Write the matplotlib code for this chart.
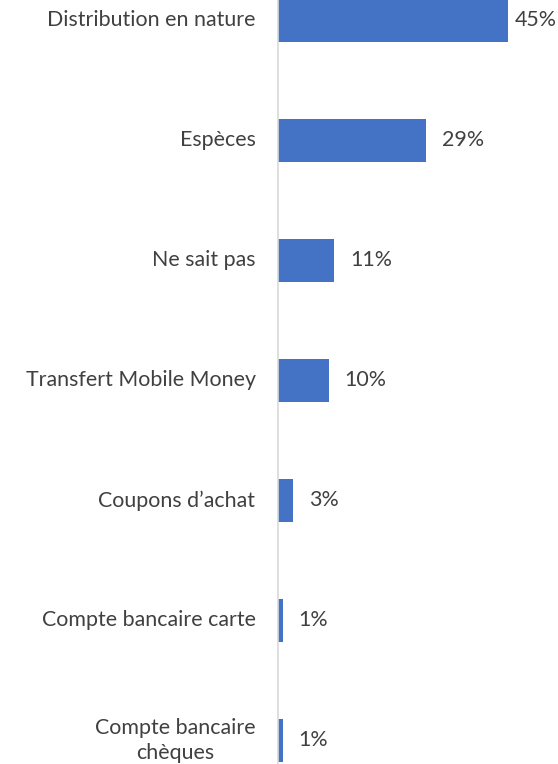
import matplotlib
matplotlib.use("Agg")
import matplotlib.pyplot as plt

categories = [
    "Distribution en nature",
    "Espèces",
    "Ne sait pas",
    "Transfert Mobile Money",
    "Coupons d\u2019achat",
    "Compte bancaire carte",
    "Compte bancaire\nchèques",
]
values = [45, 29, 11, 10, 3, 1, 1]
value_labels = ["45%", "29%", "11%", "10%", "3%", "1%", "1%"]

BAR_COLOR = "#4472C4"
TEXT_COLOR = "#404040"
AXIS_COLOR = "#D9D9D9"

W, H, DPI = 558, 764, 100
fig = plt.figure(figsize=(W / DPI, H / DPI), dpi=DPI)
ax = fig.add_axes([277.5 / W, 0, 1 - 277.5 / W, 1])

px_per_unit = 120.0
ax.set_ylim(6 + 23.5 / px_per_unit, -20.5 / px_per_unit)
xmax = (W - 277.5) / 5.122
ax.set_xlim(0, xmax)

pos = list(range(len(categories)))
ax.barh(pos, values, height=43 / px_per_unit, color=BAR_COLOR, zorder=2)

plt.rcParams["font.family"] = ["Lato", "DejaVu Sans"]
fs = 15.4

for p, v, lab in zip(pos, values, value_labels):
    ann = ax.annotate(lab, xy=(v, p), xytext=(16, 0), textcoords="offset pixels",
                      ha="left", va="center", fontsize=fs, color=TEXT_COLOR,
                      family=["Lato", "DejaVu Sans"], annotation_clip=False)
    # keep the label inside the figure when the bar is long
    fig.canvas.draw()
    bb = ann.get_window_extent()
    if bb.x1 > W - 1:
        ann.set_position((16 - (bb.x1 - (W - 1)), 0))

for p, cat in zip(pos, categories):
    ax.annotate(cat, xy=(0, p), xytext=(-22, 0), textcoords="offset pixels",
                ha="right", va="center", multialignment="center",
                fontsize=fs, color=TEXT_COLOR, family=["Lato", "DejaVu Sans"],
                annotation_clip=False, linespacing=1.35)

for s in ["top", "right", "bottom"]:
    ax.spines[s].set_visible(False)
ax.spines["left"].set_color(AXIS_COLOR)
ax.spines["left"].set_linewidth(1.2)
ax.set_xticks([])
ax.set_yticks([])
ax.patch.set_alpha(0)

fig.savefig("out.png", dpi=DPI)
